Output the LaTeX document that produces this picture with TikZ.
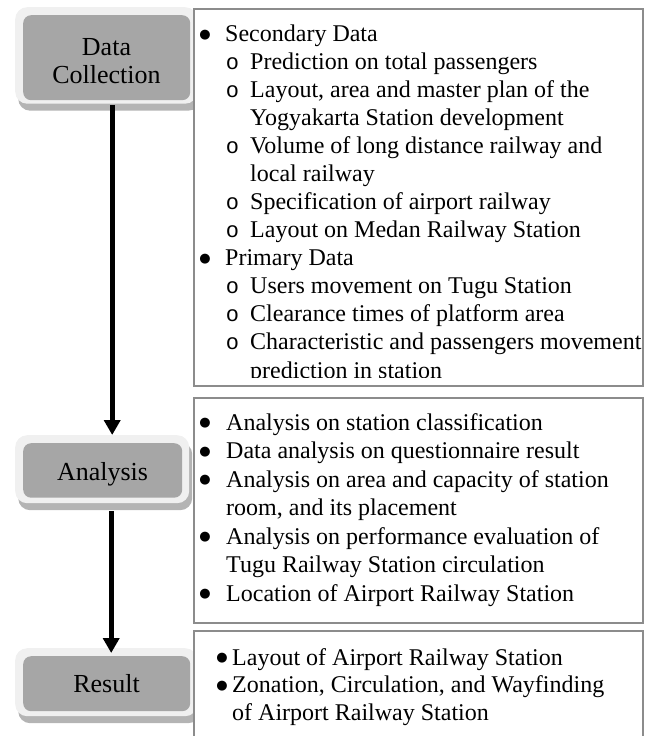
\documentclass[tikz,border=0pt]{standalone}
\usepackage{fontspec}
\setmainfont{Liberation Serif}
\newfontfamily\monofnt{Liberation Mono}
\newfontfamily\symfnt{DejaVu Sans}
\usetikzlibrary{arrows.meta,shadows,calc}
\definecolor{framegray}{HTML}{F0F0F0}
\definecolor{innergray}{HTML}{A6A6A6}
\definecolor{shadowgray}{HTML}{B4B4B4}
\definecolor{boxline}{HTML}{8C8C8C}
\begin{document}
\begin{tikzpicture}[x=1pt,y=-1pt,
  frame/.style={fill=framegray, rounded corners=12pt, inner sep=0, anchor=north west,
    drop shadow={shadow xshift=3pt, shadow yshift=-7pt, fill=shadowgray, opacity=1}},
  inner/.style={fill=innergray, rounded corners=8pt, inner sep=0, anchor=north west},
  lbl/.style={anchor=base, inner sep=0, font=\fontsize{26}{28}\selectfont},
  rbox/.style={draw=boxline, line width=1.5pt, fill=white, inner sep=0, anchor=north west},
  arr/.style={line width=5pt, -{Triangle[width=16pt,length=15pt]}},
  rtext/.style={anchor=base west, inner sep=0, font=\fontsize{24}{28}\selectfont},
  bul/.style={anchor=base, inner sep=0, yshift=3.5pt, font=\symfnt\fontsize{13}{14}\selectfont},
  subb/.style={anchor=base, inner sep=0, font=\monofnt\fontsize{22}{28}\selectfont}]
\useasboundingbox (0,0) rectangle (648,736);
\clip (0,0) rectangle (648,736);
% left boxes
\node[frame, minimum width=182pt, minimum height=96.5pt] (dcframe) at (15,7) {};
\node[inner, minimum width=167pt, minimum height=85pt] (dcinner) at (23,15) {};
\node[lbl] (dclabel) at (106.5,55) {\setlength{\tabcolsep}{0pt}\begin{tabular}[t]{c}Data\\Collection\end{tabular}};
\node[frame, minimum width=174pt, minimum height=68pt] (anframe) at (15,435) {};
\node[inner, minimum width=159pt, minimum height=54.5pt] (aninner) at (23,443) {};
\node[lbl] (anlabel) at (102.5,480) {Analysis};
\node[frame, minimum width=182pt, minimum height=68pt] (rsframe) at (15,648) {};
\node[inner, minimum width=167pt, minimum height=55pt] (rsinner) at (23,656) {};
\node[lbl] (rslabel) at (106.5,692) {Result};
% arrows
\draw[arr] ($(dcframe.south)+(6,1)$) -- ($(anframe.north)+(10,0)$);
\draw[arr] ($(anframe.south)+(9,8)$) -- ($(rsframe.north)+(5,5)$);
% right boxes
\node[rbox, minimum width=449pt, minimum height=377pt] (b1) at (193,8) {};
\node[rbox, minimum width=449pt, minimum height=225pt] (b2) at (193,397) {};
\node[rbox, minimum width=449pt, minimum height=140pt] (b3) at (193,630) {};
% box 1 text
\node[bul] (b1m0) at (205,41.5) {●};
\node[rtext] (b1t0) at (225,41.5) {Secondary Data};
\node[subb] (b1m1) at (232.5,69.5) {o};
\node[rtext] (b1t1) at (250,69.5) {Prediction on total passengers};
\node[subb] (b1m2) at (232.5,97.5) {o};
\node[rtext] (b1t2) at (250,97.5) {Layout, area and master plan of the};
\node[rtext] (b1t3) at (250,125.5) {Yogyakarta Station development};
\node[subb] (b1m4) at (232.5,153.5) {o};
\node[rtext] (b1t4) at (250,153.5) {Volume of long distance railway and};
\node[rtext] (b1t5) at (250,181.5) {local railway};
\node[subb] (b1m6) at (232.5,209.5) {o};
\node[rtext] (b1t6) at (250,209.5) {Specification of airport railway};
\node[subb] (b1m7) at (232.5,237.5) {o};
\node[rtext] (b1t7) at (250,237.5) {Layout on Medan Railway Station};
\node[bul] (b1m8) at (205,265.5) {●};
\node[rtext] (b1t8) at (225,265.5) {Primary Data};
\node[subb] (b1m9) at (232.5,293.5) {o};
\node[rtext] (b1t9) at (250,293.5) {Users movement on Tugu Station};
\node[subb] (b1m10) at (232.5,321.5) {o};
\node[rtext] (b1t10) at (250,321.5) {Clearance times of platform area};
\node[subb] (b1m11) at (232.5,349.5) {o};
\node[rtext] (b1t11) at (250,349.5) {Characteristic and passengers movement};
\begin{scope}
\clip (193,8) rectangle (642,377);
\node[rtext] (b1t12) at (250,378) {prediction in station};
\end{scope}
% box 2 text
\node[bul] (b2m0) at (205,430) {●};
\node[rtext] (b2t0) at (226,430) {Analysis on station classification};
\node[bul] (b2m1) at (205,458.5) {●};
\node[rtext] (b2t1) at (226,458.5) {Data analysis on questionnaire result};
\node[bul] (b2m2) at (205,487) {●};
\node[rtext] (b2t2) at (226,487) {Analysis on area and capacity of station};
\node[rtext] (b2t3) at (226,515.5) {room, and its placement};
\node[bul] (b2m4) at (205,544) {●};
\node[rtext] (b2t4) at (226,544) {Analysis on performance evaluation of};
\node[rtext] (b2t5) at (226,572.5) {Tugu Railway Station circulation};
\node[bul] (b2m6) at (205,601) {●};
\node[rtext] (b2t6) at (226,601) {Location of Airport Railway Station};
% box 3 text
\node[bul] (b3m0) at (222,665) {●};
\node[rtext] (b3t0) at (232,665) {Layout of Airport Railway Station};
\node[bul] (b3m1) at (222,692.8) {●};
\node[rtext] (b3t1) at (232,692.8) {Zonation, Circulation, and Wayfinding};
\node[rtext] (b3t2) at (232,720.6) {of Airport Railway Station};
\end{tikzpicture}
\end{document}
